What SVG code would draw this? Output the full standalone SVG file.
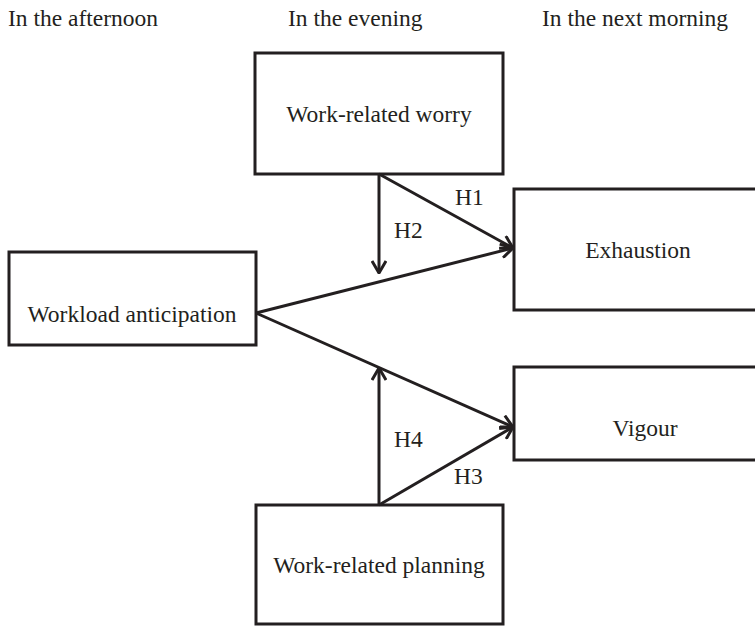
<svg xmlns="http://www.w3.org/2000/svg" width="755" height="626" viewBox="0 0 755 626">
<defs>
<marker id="arr" viewBox="0 0 14 16" refX="13" refY="8" markerWidth="14" markerHeight="16" markerUnits="userSpaceOnUse" orient="auto">
<path d="M1,1 L13,8 L1,15" fill="none" stroke="#231f20" stroke-width="3"/>
</marker>
<style>
.box{fill:#fff;stroke:#231f20;stroke-width:3}
.t{font-family:"Liberation Serif","Times New Roman",serif;font-size:23.5px;fill:#231f20}
.c{stroke:#231f20;stroke-width:3;fill:none}
</style>
</defs>
<rect width="755" height="626" fill="#fff"/>
<g id="headers">
<text class="t" x="8" y="26">In the afternoon</text>
<text class="t" x="288" y="26">In the evening</text>
<text class="t" x="542" y="26">In the next morning</text>
</g>
<g id="worry"><rect class="box" x="255" y="53" width="248" height="121"/><text class="t" x="379" y="122" text-anchor="middle">Work-related worry</text></g>
<g id="workload"><rect class="box" x="9" y="252" width="247" height="93"/><text class="t" x="132" y="322" text-anchor="middle">Workload anticipation</text></g>
<g id="exhaustion"><rect class="box" x="514" y="189" width="256" height="121"/><text class="t" x="638" y="258" text-anchor="middle">Exhaustion</text></g>
<g id="vigour"><rect class="box" x="514" y="367" width="256" height="93"/><text class="t" x="645" y="436" text-anchor="middle">Vigour</text></g>
<g id="planning"><rect class="box" x="256" y="505" width="247" height="119"/><text class="t" x="379" y="573" text-anchor="middle">Work-related planning</text></g>
<g id="connectors">
<line class="c" x1="379" y1="174" x2="513" y2="248" marker-end="url(#arr)"/>
<line class="c" x1="379" y1="174" x2="379" y2="273" marker-end="url(#arr)"/>
<line class="c" x1="256" y1="313" x2="513" y2="248" marker-end="url(#arr)"/>
<line class="c" x1="256" y1="313" x2="513" y2="427" marker-end="url(#arr)"/>
<line class="c" x1="379" y1="505" x2="379" y2="368" marker-end="url(#arr)"/>
<line class="c" x1="379" y1="505" x2="513" y2="427" marker-end="url(#arr)"/>
<text class="t" x="455" y="205">H1</text>
<text class="t" x="394" y="238">H2</text>
<text class="t" x="454" y="484">H3</text>
<text class="t" x="394" y="447">H4</text>
</g>
</svg>
